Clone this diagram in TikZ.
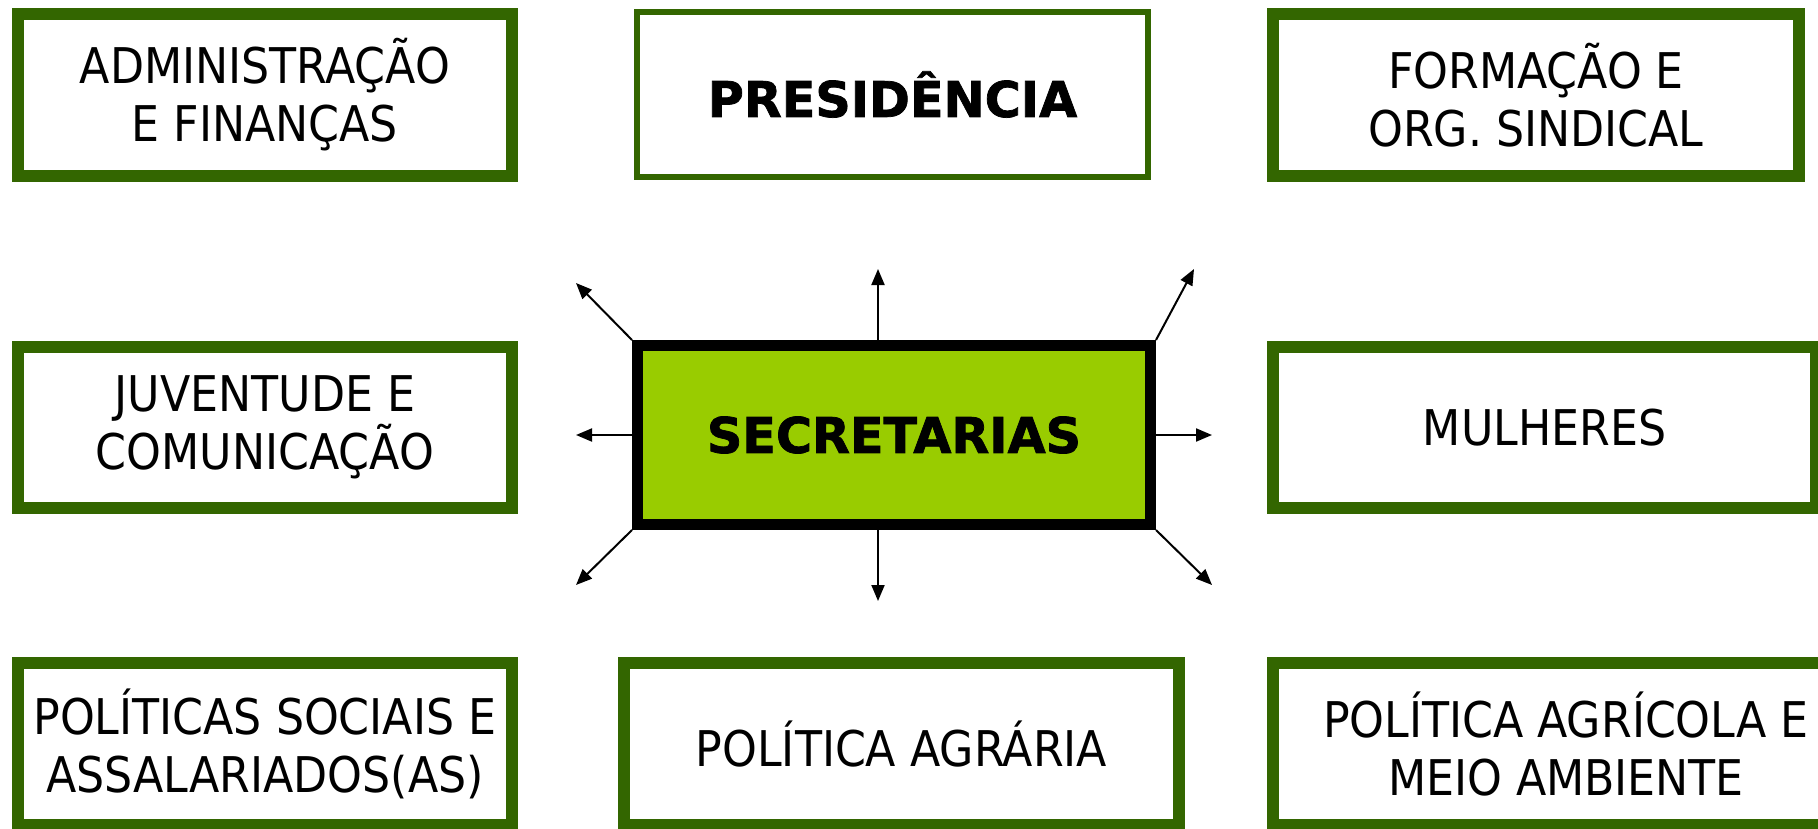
\documentclass[tikz,border=0pt]{standalone}
\usepackage{fontspec}
\setmainfont{DejaVu Sans Condensed}
\newfontfamily\heavyfont{DejaVu Sans}[FakeBold=1.5]
\usetikzlibrary{arrows.meta}

\definecolor{boxgreen}{HTML}{336600}
\definecolor{limegreen}{HTML}{99CC00}

\tikzset{
  secbox/.style={draw=boxgreen, line width=1.2mm, fill=white, align=center,
    inner sep=0pt, font=\fontsize{14}{16.5}\selectfont},
  headbox/.style={secbox, line width=0.6mm, font=\heavyfont\bfseries\fontsize{14}{16}\selectfont},
  spoke/.style={line width=0.2mm, -{Triangle[length=1.6mm,width=1.3mm]}},
}

\begin{document}
\begin{tikzpicture}[x=0.1mm,y=-0.1mm]
\useasboundingbox (0,0) rectangle (1818,828);

%linha de cima
\node[secbox, minimum width=49.4mm, minimum height=16.2mm] (adm) at (265,95) {ADMINISTRAÇÃO\\E FINANÇAS};
\node[headbox, minimum width=51.1mm, minimum height=16.5mm] (pres) at (892.5,94.5) {PRESIDÊNCIA};
\node[secbox, minimum width=52.6mm, minimum height=16.2mm] (form) at (1536,95) {FORMAÇÃO E\\ORG. SINDICAL};

%linha do meio
\node[secbox, minimum width=49.4mm, minimum height=16.1mm] (juv) at (265,427.5) {JUVENTUDE E\\COMUNICAÇÃO};
\node[headbox, draw=black, fill=limegreen, line width=1.1mm, minimum width=51.3mm, minimum height=17.9mm] (sec) at (894,435) {SECRETARIAS};
\node[secbox, minimum width=54.3mm, minimum height=16.1mm] (mul) at (1544.5,427.5) {MULHERES};

%linha de baixo
\node[secbox, minimum width=49.4mm, minimum height=16.2mm] (soc) at (265,744) {POLÍTICAS SOCIAIS E\\ASSALARIADOS(AS)};
\node[secbox, minimum width=55.5mm, minimum height=16.2mm] (agr) at (901.5,744) {POLÍTICA AGRÁRIA};
\node[secbox, minimum width=58.6mm, minimum height=16.2mm] (agric) at (1566,744) {POLÍTICA AGRÍCOLA E\\MEIO AMBIENTE};

%setas
\coordinate (up) at (878,269);
\coordinate (dn) at (878,601);
\coordinate (lf) at (576,435);
\coordinate (rt) at (1212,435);
\coordinate (ul) at (576,283);
\coordinate (ur) at (1194,269);
\coordinate (dl) at (576,585);
\coordinate (dr) at (1212,585);

\draw[spoke] (up |- sec.north) -- (up);
\draw[spoke] (dn |- sec.south) -- (dn);
\draw[spoke] (sec.west) -- (lf);
\draw[spoke] (sec.east) -- (rt);
\draw[spoke] (sec.north west) -- (ul);
\draw[spoke] (sec.north east) -- (ur);
\draw[spoke] (sec.south west) -- (dl);
\draw[spoke] (sec.south east) -- (dr);

\end{tikzpicture}
\end{document}
